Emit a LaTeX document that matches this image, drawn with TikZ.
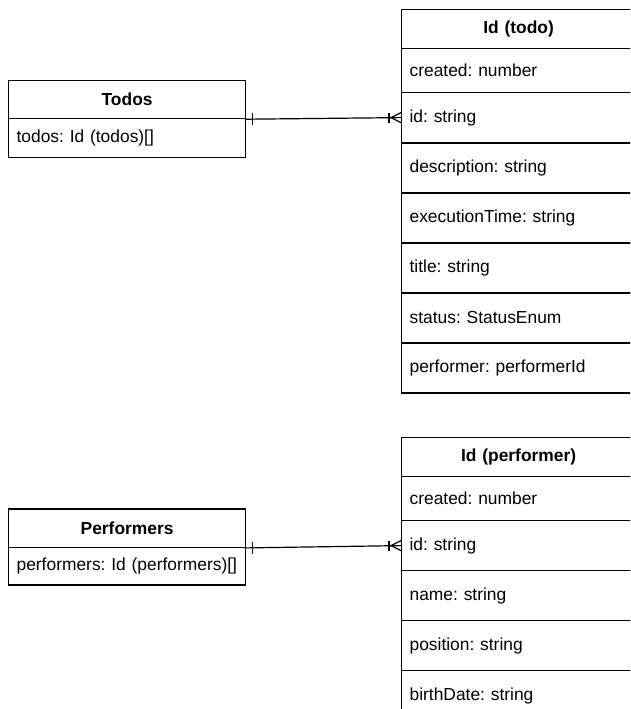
\documentclass[tikz,border=0pt]{standalone}
\usepackage{fontspec}
\setmainfont{Liberation Sans}
\frenchspacing
\begin{document}
\begin{tikzpicture}[x=1pt,y=-1pt,
  every node/.style={font=\fontsize{17.4}{20}\selectfont},
  cell/.style={draw, line width=1.2pt, rectangle, anchor=north west,
    inner xsep=8pt, inner ysep=0pt,
    align=left, execute at begin node={\hyphenpenalty=10000\exhyphenpenalty=10000}},
  head/.style={cell, align=center, font=\fontsize{17.4}{20}\selectfont\bfseries},
  wideA/.style={text width=221pt},
  wideB/.style={text width=218pt},
  link/.style={line width=1.2pt}
]
\useasboundingbox (0,0) rectangle (630,709);
\clip (0,0) rectangle (630,709);

% Todos entity
\node[head, wideA, minimum height=38pt] (todoshead) at (8,80) {Todos};
\node[cell, wideA, minimum height=39pt] (todosfield) at (8,118) {todos: Id (todos)[]};

% Id (todo) entity
\node[head, wideB, minimum height=38.4pt] (todohead) at (401,9.3) {Id (todo)};
\node[cell, wideB, minimum height=44pt]   (todocreated) at (401,47.7) {created: number};
\node[cell, wideB, minimum height=50.6pt] (todoid) at (401,91.7) {id: string};
\node[cell, wideB, minimum height=50pt]   (tododesc) at (401,142.3) {description: string};
\node[cell, wideB, minimum height=50pt]   (todoexec) at (401,192.3) {executionTime: string};
\node[cell, wideB, minimum height=50pt]   (todotitle) at (401,242.3) {title: string};
\node[cell, wideB, minimum height=50pt]   (todostatus) at (401,292.3) {status: StatusEnum};
\node[cell, wideB, minimum height=50pt]   (todoperf) at (401,342.3) {performer: performerId};

% Performers entity
\node[head, wideA, minimum height=38.4pt] (perfshead) at (8,508.3) {Performers};
\node[cell, wideA, minimum height=37.6pt] (perfsfield) at (8,546.7) {performers: Id (performers)[]};

% Id (performer) entity
\node[head, wideB, minimum height=39pt]   (perfhead) at (401,436.7) {Id (performer)};
\node[cell, wideB, minimum height=44.3pt] (perfcreated) at (401,475.7) {created: number};
\node[cell, wideB, minimum height=50pt]   (perfid) at (401,520) {id: string};
\node[cell, wideB, minimum height=50pt]   (perfname) at (401,570) {name: string};
\node[cell, wideB, minimum height=50pt]   (perfpos) at (401,620) {position: string};
\node[cell, wideB, minimum height=50pt]   (perfbirth) at (401,670) {birthDate: string};

% Relation Todos -> Id (todo): one to many
\draw[link] (todoshead.south east) -- (todoid.west);
\draw[link] ([xshift=6pt,yshift=6pt]todoshead.south east) -- ([xshift=6pt,yshift=-6pt]todoshead.south east);
\draw[link] ([xshift=-12pt,yshift=5pt]todoid.west) -- ([xshift=-12pt,yshift=-5pt]todoid.west);
\draw[link] ([yshift=5pt]todoid.west) -- ([xshift=-10pt]todoid.west) -- ([yshift=-5pt]todoid.west);

% Relation Performers -> Id (performer): one to many
\draw[link] (perfshead.south east) -- (perfid.west);
\draw[link] ([xshift=6pt,yshift=6pt]perfshead.south east) -- ([xshift=6pt,yshift=-6pt]perfshead.south east);
\draw[link] ([xshift=-12pt,yshift=5pt]perfid.west) -- ([xshift=-12pt,yshift=-5pt]perfid.west);
\draw[link] ([yshift=5pt]perfid.west) -- ([xshift=-10pt]perfid.west) -- ([yshift=-5pt]perfid.west);
\end{tikzpicture}
\end{document}
